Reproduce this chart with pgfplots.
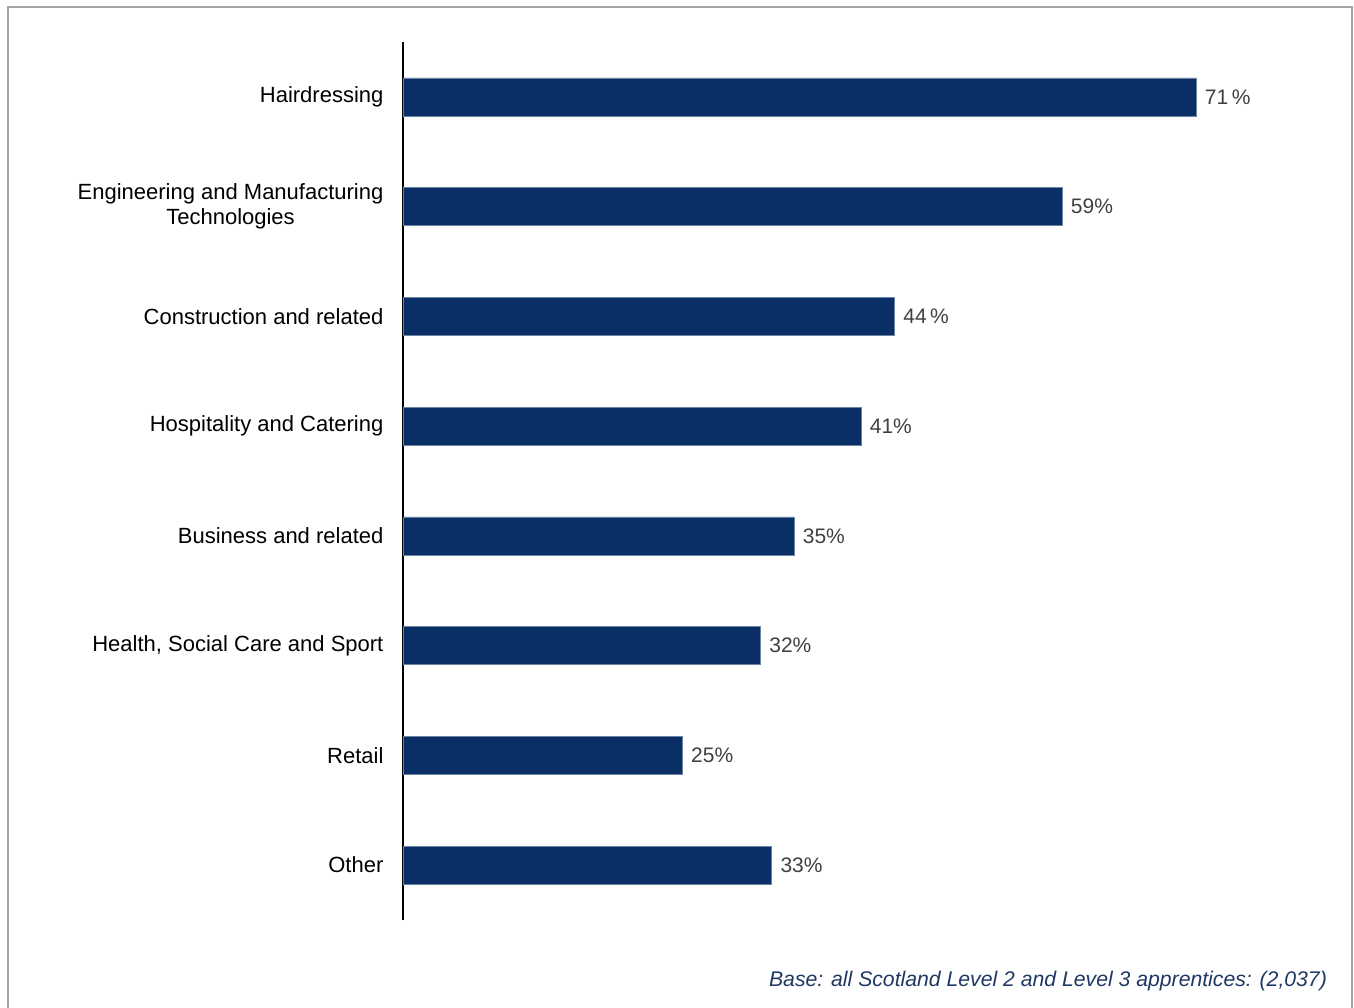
\documentclass[border=0pt]{standalone}
\usepackage{pgfplots}
\pgfplotsset{compat=1.18}
\usepackage{fontspec}
\setmainfont{Liberation Sans}
\definecolor{barblue}{HTML}{0A2F66}
\definecolor{notecol}{HTML}{1F3864}
\definecolor{vallab}{HTML}{404040}
\begin{document}
\begin{tikzpicture}
\useasboundingbox (0pt,0pt) rectangle (677pt,503.5pt);
\begin{scope}
\clip (0pt,0pt) rectangle (677pt,503.5pt);
\draw[color=gray!70, line width=1pt] (4pt,-10pt) rectangle (676pt,500pt);
\end{scope}
\begin{axis}[
  at={(201.5pt,43.5pt)}, anchor=south west,
  scale only axis,
  width=469.1pt, height=439pt,
  xbar, bar width=19pt,
  xmin=0, xmax=84,
  ymin=-0.5, ymax=7.5,
  enlargelimits=false,
  axis x line=none,
  axis y line*=left,
  axis line style={-, black, line width=0.75pt},
  ytick={0,1,2,3,4,5,6,7},
  yticklabels={Other, Retail, {Health, Social Care and Sport}, Business and related, Hospitality and Catering, Construction and related, {Engineering and Manufacturing\\Technologies}, Hairdressing},
  yticklabel style={align=center, font=\fontsize{11}{12.5}\selectfont, text=black, xshift=-2pt},
  ytick style={draw=none},
  nodes near coords,
  point meta=explicit symbolic,
  every node near coord/.append style={anchor=west, font=\fontsize{10.5}{12}\selectfont, text=vallab, xshift=1pt},
  clip=false,
]
\addplot[fill=barblue, draw=barblue!60, line width=0.3pt] table[meta=lab] {
x y lab
33 0 {33\%}
25 1 {25\%}
32 2 {32\%}
35 3 {35\%}
41 4 {41\%}
44 5 {44\,\%}
59 6 {59\%}
71 7 {71\,\%}
};
\end{axis}
\node[anchor=east, font=\itshape\fontsize{10.6}{12}\selectfont, text=notecol] at (667pt,13pt) {Base: all Scotland Level 2 and Level 3 apprentices: (2,037)};
\end{tikzpicture}
\end{document}
